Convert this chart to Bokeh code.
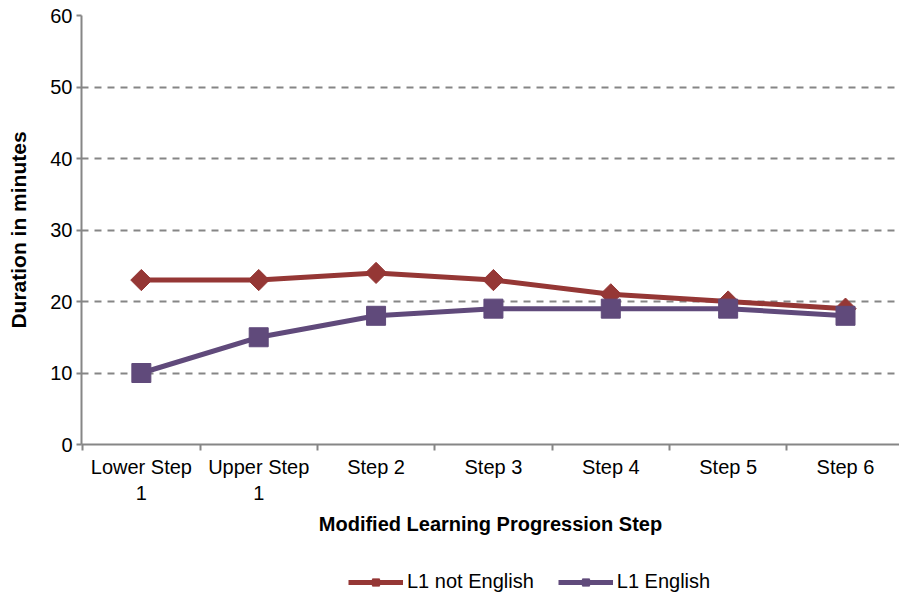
import math
from bokeh.plotting import figure
from bokeh.layouts import column
from bokeh.models import FixedTicker, Legend, LegendItem, Range1d
from bokeh.embed import file_html
from bokeh.resources import INLINE

categories = ["Lower Step\n1", "Upper Step\n1", "Step 2", "Step 3", "Step 4", "Step 5", "Step 6"]
l1_not_english = [23, 23, 24, 23, 21, 20, 19]
l1_english = [10, 15, 18, 19, 19, 19, 18]
y_ticks = [0, 10, 20, 30, 40, 50, 60]

RED = "#953735"
PURPLE = "#604a7b"
GRID = "#868686"
FONT = "Liberation Sans"

xs = list(range(len(categories)))

p = figure(frame_width=818, frame_height=429, output_backend="svg", toolbar_location=None,
           x_range=Range1d(-0.51, 6.46), y_range=Range1d(0, 60),
           min_border_left=81, min_border_top=15, min_border_right=0, min_border_bottom=0)
p.outline_line_color = None
p.background_fill_color = "white"

# axes
p.xaxis.ticker = FixedTicker(ticks=xs, minor_ticks=[i - 0.5 for i in range(len(categories) + 1)])
p.xaxis.major_label_overrides = {i: c for i, c in enumerate(categories)}
p.xaxis.major_tick_out = 0
p.xaxis.major_tick_in = 0
p.xaxis.minor_tick_out = 6
p.xaxis.minor_tick_in = 0
p.xaxis.minor_tick_line_color = GRID
p.xaxis.minor_tick_line_width = 2
p.xaxis.axis_line_color = GRID
p.xaxis.axis_line_width = 2
p.xaxis.major_label_text_font = FONT
p.xaxis.major_label_text_font_size = "20px"
p.xaxis.major_label_text_color = "black"
p.xaxis.major_label_standoff = 5
p.xaxis.axis_label = "Modified Learning Progression Step"
p.xaxis.axis_label_text_font = FONT
p.xaxis.axis_label_text_font_size = "20px"
p.xaxis.axis_label_text_font_style = "bold"
p.xaxis.axis_label_text_color = "black"
p.xaxis.axis_label_standoff = 6

p.yaxis.ticker = FixedTicker(ticks=y_ticks)
p.yaxis.major_tick_out = 5
p.yaxis.major_tick_in = 0
p.yaxis.minor_tick_line_color = None
p.yaxis.major_tick_line_color = GRID
p.yaxis.major_tick_line_width = 2
p.yaxis.axis_line_color = GRID
p.yaxis.axis_line_width = 2
p.yaxis.major_label_text_font = FONT
p.yaxis.major_label_text_font_size = "20px"
p.yaxis.major_label_text_color = "black"
p.yaxis.major_label_standoff = 4
p.yaxis.axis_label = "Duration in minutes"
p.yaxis.axis_label_text_font = FONT
p.yaxis.axis_label_text_font_size = "21px"
p.yaxis.axis_label_text_font_style = "bold"
p.yaxis.axis_label_text_color = "black"
p.yaxis.axis_label_standoff = 17

p.xgrid.grid_line_color = None
p.ygrid.ticker = FixedTicker(ticks=y_ticks[1:])
p.ygrid.grid_line_color = GRID
p.ygrid.grid_line_dash = "7 6"
p.ygrid.grid_line_width = 2

p.line(xs, l1_not_english, line_color=RED, line_width=5)
p.scatter(xs, l1_not_english, marker="square", angle=math.pi / 4, size=15,
          fill_color=RED, line_color=RED)
p.line(xs, l1_english, line_color=PURPLE, line_width=5)
p.scatter(xs, l1_english, marker="square", size=19, fill_color=PURPLE, line_color=PURPLE)

# legend strip below the chart (series drawn off-view, only their legend glyphs show)
lg = figure(width=899, height=60, output_backend="svg", toolbar_location=None,
            x_axis_type=None, y_axis_type=None,
            x_range=Range1d(100, 101), y_range=Range1d(100, 101),
            min_border_left=0, min_border_right=0, min_border_top=0, min_border_bottom=0)
lg.outline_line_color = None
lg.xgrid.grid_line_color = None
lg.ygrid.grid_line_color = None
a1 = lg.line(xs, l1_not_english, line_color=RED, line_width=5)
b1 = lg.scatter(xs, l1_not_english, marker="square", angle=math.pi / 4, size=15,
                fill_color=RED, line_color=RED)
a2 = lg.line(xs, l1_english, line_color=PURPLE, line_width=5)
b2 = lg.scatter(xs, l1_english, marker="square", size=19, fill_color=PURPLE, line_color=PURPLE)

legend = Legend(items=[LegendItem(label="L1 not English", renderers=[a1, b1]),
                       LegendItem(label="L1 English", renderers=[a2, b2])],
                orientation="horizontal", location=(267, 4),
                label_text_font=FONT, label_text_font_size="20px", label_text_color="black",
                glyph_width=55, glyph_height=18, spacing=24, label_standoff=4,
                border_line_color=None, background_fill_alpha=0, padding=0, margin=0)
lg.add_layout(legend, "center")

layout = column(p, lg, spacing=0)
open("out.html", "w").write(file_html(layout, INLINE))
